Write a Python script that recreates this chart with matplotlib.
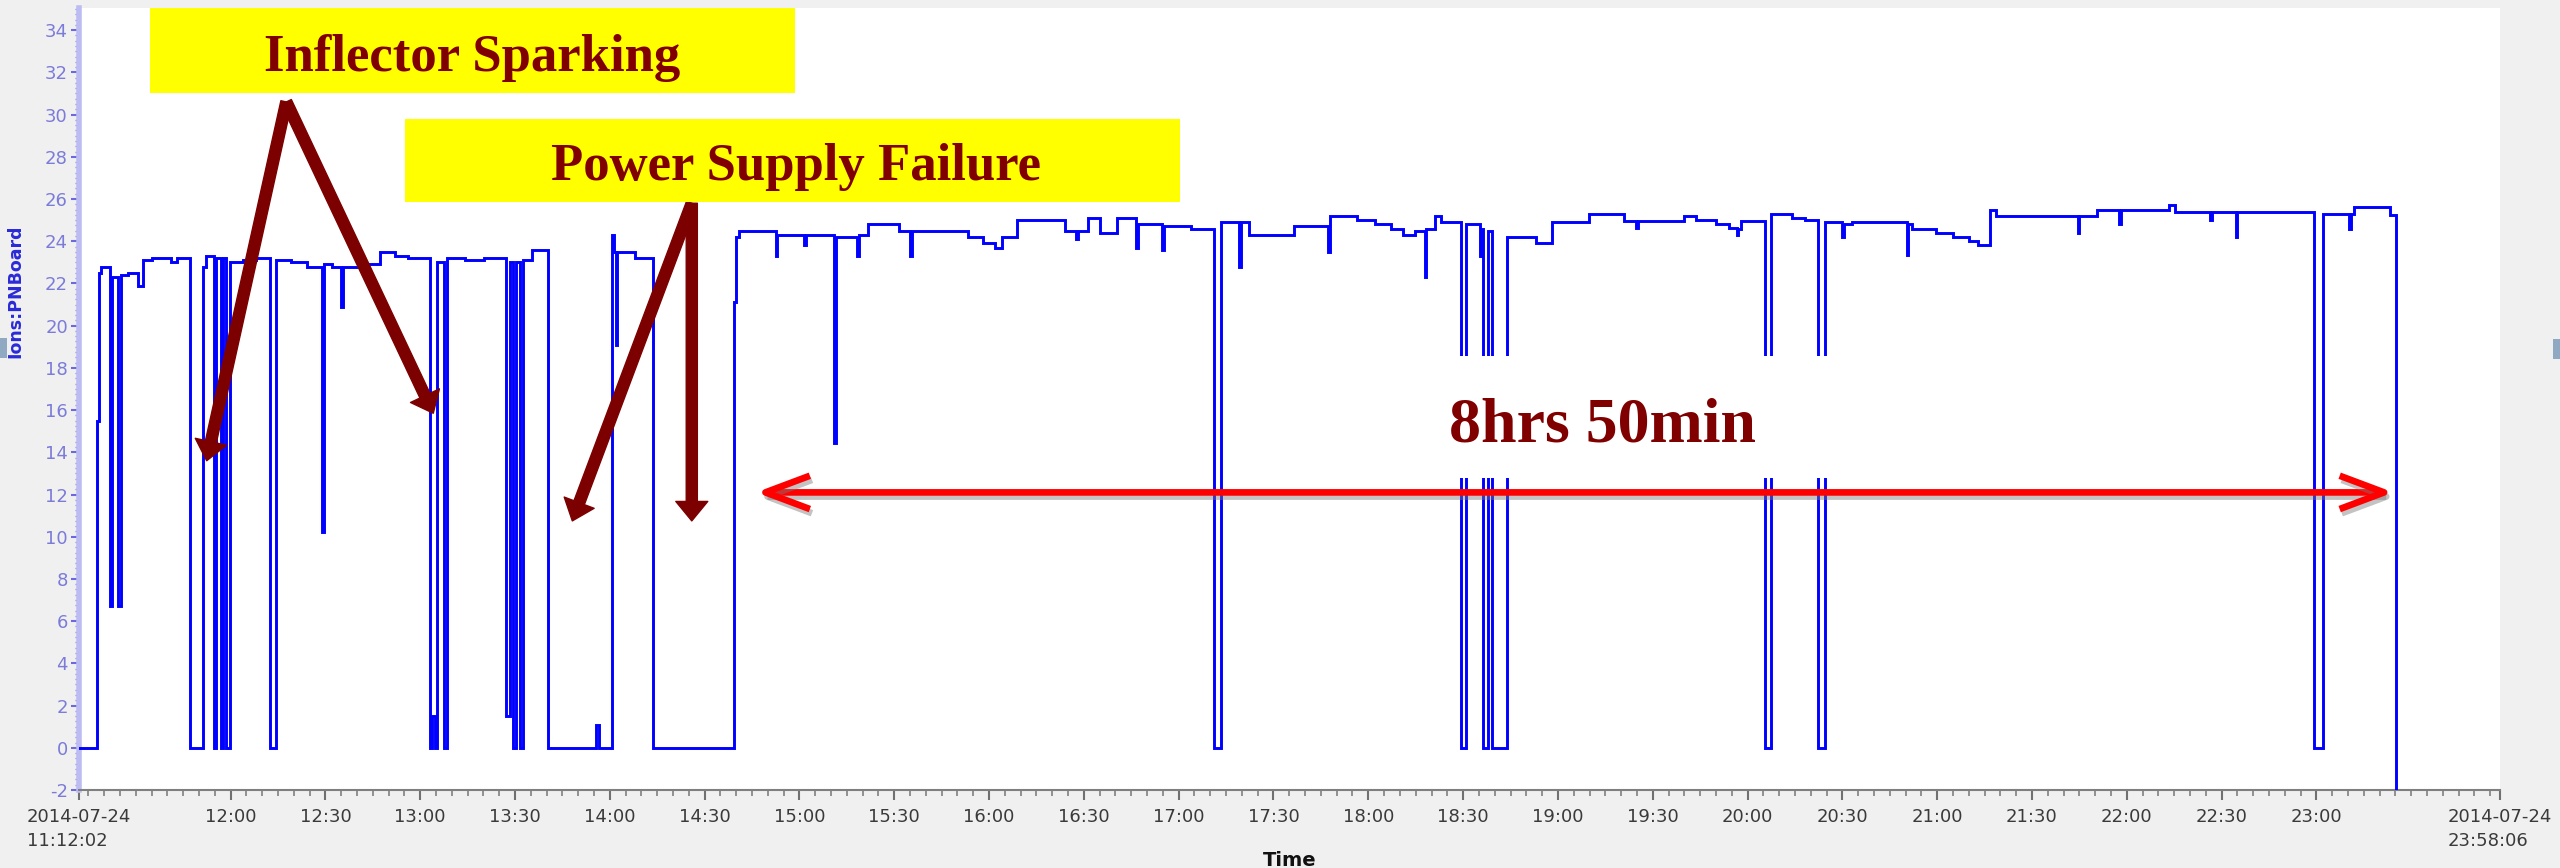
import matplotlib
matplotlib.use("Agg")
import matplotlib.pyplot as plt
from matplotlib.patches import Rectangle, FancyArrowPatch, ArrowStyle
from matplotlib.ticker import MultipleLocator
import matplotlib.patheffects as pe

plt.rcParams["axes.unicode_minus"] = False
plt.rcParams["font.family"] = ["DejaVu Sans"]

# ---------------- data ----------------
start_clock = "11:12:02"
end_clock = "23:58:06"
start_label = "2014-07-24\n11:12:02"
end_label = "2014-07-24\n23:58:06"

# minutes elapsed since 11:12:02
elapsed_min = [
    0.0, 5.7, 6.4, 7.0, 9.8, 10.6, 12.3, 13.3, 15.5, 18.6, 20.2, 23.0, 29.0, 31.0,
    35.0, 39.2, 40.2, 42.6, 43.4, 44.8, 45.6, 46.5, 47.7, 52.0, 56.0, 60.3, 62.3,
    67.0, 72.0, 77.0, 77.5, 80.0, 83.0, 83.5, 90.0, 95.4, 100.0, 104.0,
    111.0, 111.8, 112.6, 113.4, 115.6, 116.6, 122.0, 128.0,
    135.0, 136.3, 137.4, 138.2, 139.5, 140.6, 143.4, 148.3, 163.6, 164.6,
    168.8, 169.4, 170.0, 170.3, 176.0, 181.5, 207.2, 207.8,
    208.8, 220.4, 220.9, 229.4, 229.9, 239.0, 239.4, 246.3, 246.8, 249.6,
    259.5, 263.0, 263.5, 281.3, 286.0, 290.0, 292.2, 296.7, 312.1, 315.5, 316.0,
    319.4, 323.0, 328.4, 334.6, 335.1, 342.7, 343.2, 352.0, 359.2, 361.4,
    367.2, 367.7, 370.1, 384.6, 395.3, 396.0, 404.5, 410.0, 415.0, 419.0,
    422.7, 425.8, 426.3, 429.0, 431.0, 437.2, 439.0, 443.3, 443.7, 444.4,
    446.0, 447.0, 451.7, 461.0, 466.0, 477.7,
    489.0, 492.7, 493.2, 508.0, 511.8, 518.0, 522.0, 524.5, 525.0, 526.0,
    533.6, 535.5, 542.0, 546.0, 550.2, 552.5, 558.0, 558.5, 561.0, 578.4, 578.8,
    580.0, 587.5, 593.0, 598.0, 601.0, 604.6, 606.5, 632.4, 632.9, 638.6,
    645.6, 646.1, 661.4, 663.2, 674.4, 674.9, 682.5, 683.0, 707.2, 710.2,
    718.3, 718.8, 720.0, 731.4, 733.3,
]
ions_pnboard = [
    0.0, 15.5, 22.5, 22.8, 6.7, 22.3, 6.7, 22.4, 22.5, 21.9, 23.1, 23.2, 23.0, 23.2,
    0.0, 22.8, 23.3, 0.0, 23.2, 0.0, 23.2, 0.0, 23.0, 23.1, 23.2, 0.0, 23.1,
    23.0, 22.8, 10.2, 22.9, 22.8, 20.9, 22.8, 22.9, 23.5, 23.3, 23.2,
    0.0, 1.5, 0.0, 23.0, 0.0, 23.2, 23.1, 23.2,
    1.5, 23.0, 0.0, 23.0, 0.0, 23.1, 23.6, 0.0, 1.1, 0.0,
    24.3, 23.5, 19.1, 23.5, 23.2, 0.0, 21.1, 24.2,
    24.5, 23.3, 24.3, 23.8, 24.3, 14.45, 24.2, 23.3, 24.3, 24.8,
    24.5, 23.3, 24.5, 24.2, 23.9, 23.7, 24.2, 25.0, 24.5, 24.1, 24.5,
    25.1, 24.4, 25.1, 23.7, 24.8, 23.6, 24.7, 24.6, 0.0, 24.9,
    22.8, 24.9, 24.3, 24.7, 23.5, 25.2, 25.0, 24.8, 24.6, 24.3,
    24.5, 22.3, 24.6, 25.2, 24.9, 0.0, 24.8, 23.3, 24.6, 0.0,
    24.5, 0.0, 24.2, 23.9, 24.9, 25.3,
    24.95, 24.65, 24.95, 25.2, 25.0, 24.8, 24.65, 24.3, 24.6, 24.95,
    0.0, 25.3, 25.1, 25.0, 0.0, 24.9, 24.2, 24.8, 24.9, 23.35, 24.8,
    24.6, 24.4, 24.2, 24.0, 23.8, 25.5, 25.2, 24.4, 25.2, 25.5,
    24.8, 25.5, 25.7, 25.4, 25.0, 25.4, 24.2, 25.4, 0.0, 25.3,
    24.6, 25.3, 25.6, 25.25, -3.0,
]

clock_ticks = ["12:00", "12:30", "13:00", "13:30", "14:00", "14:30", "15:00",
               "15:30", "16:00", "16:30", "17:00", "17:30", "18:00", "18:30",
               "19:00", "19:30", "20:00", "20:30", "21:00", "21:30", "22:00",
               "22:30", "23:00"]
y_ticks = list(range(-2, 35, 2))

y_label = "Ions:PNBoard"
x_label = "Time"

# annotations (elapsed minutes, value)
inflector_text = "Inflector Sparking"
inflector_apex = (65.6, 30.6)
inflector_tips = [(40.4, 13.6), (112.1, 15.85)]
power_text = "Power Supply Failure"
power_apex = (193.9, 25.8)
power_tips = [(156.1, 10.75), (193.9, 10.75)]
span_text = "8hrs 50min"
span_start = (214.2, 12.1)
span_end = (732.4, 12.1)


def clock_to_min(s):
    parts = [float(p) for p in s.split(":")]
    while len(parts) < 3:
        parts.append(0.0)
    h, m, sec = parts
    sh, sm, ss = [float(p) for p in start_clock.split(":")]
    return (h * 60 + m + sec / 60) - (sh * 60 + sm + ss / 60)


# ---------------- figure ----------------
W, H = 2560, 868
fig = plt.figure(figsize=(W / 100, H / 100), dpi=100, facecolor="#f0f0f0")


def px_rect(x0, y0, x1, y1):
    return [x0 / W, 1 - y1 / H, (x1 - x0) / W, (y1 - y0) / H]


ax = fig.add_axes(px_rect(79, 8, 2500, 790))
ax.set_facecolor("white")

ax.plot(elapsed_min, ions_pnboard, drawstyle="steps-post", color="#0000ff",
        lw=2.1, zorder=3, solid_joinstyle="miter")

x_end = clock_to_min(end_clock)
ax.set_xlim(0, x_end)
ax.set_ylim(-2, 35.05)

for s in ("top", "right"):
    ax.spines[s].set_visible(False)
ax.spines["left"].set_color("#bcbcf2")
ax.spines["left"].set_linewidth(4.0)
ax.spines["bottom"].set_color("#7f7f7f")
ax.spines["bottom"].set_linewidth(1.5)

# y axis
ax.set_yticks(y_ticks)
ax.set_yticklabels([str(v) for v in y_ticks])
ax.yaxis.set_minor_locator(MultipleLocator(0.25))
ax.tick_params(axis="y", which="major", length=6, width=1.5, color="#6a6ae0",
               labelcolor="#7b7bd9", labelsize=13, pad=2)
ax.tick_params(axis="y", which="minor", length=3, width=1.0, color="#8c8ce8")

# x axis
xt = [0.0] + [clock_to_min(c) for c in clock_ticks] + [x_end]
xl = [start_label] + clock_ticks + [end_label]
ax.set_xticks(xt)
ax.set_xticklabels(xl)
first_minor = clock_to_min("11:15")
minor_x = []
m = first_minor
while m < x_end:
    minor_x.append(m)
    m += 5
ax.set_xticks(minor_x, minor=True)
ax.tick_params(axis="x", which="major", length=7, width=1.5, color="#707070",
               labelcolor="#3a3a3a", labelsize=13, pad=6)
ax.tick_params(axis="x", which="minor", length=4, width=1.2, color="#808080")
for lbl in ax.get_xticklabels():
    lbl.set_linespacing(1.45)
    lbl.set_multialignment("left")

# white box behind span text
ax.add_patch(Rectangle((429.7, 12.8), 129.5, 5.75, facecolor="white",
                       edgecolor="none", zorder=4))
ax.text(433.5, 14.5, span_text, ha="left", va="baseline", fontsize=46,
        fontweight="bold", family="Liberation Serif", color="#800000", zorder=6)

# red double arrow
ax.add_patch(FancyArrowPatch(
    posA=span_start, posB=span_end,
    arrowstyle=ArrowStyle("<->", head_length=1.6, head_width=0.6),
    mutation_scale=20, color="#ff0000", lw=4.8, shrinkA=0, shrinkB=0,
    zorder=5, capstyle="butt",
    path_effects=[pe.SimpleLineShadow(offset=(1.5, -3), shadow_color="#7a7a7a",
                                      alpha=0.45), pe.Normal()]))

# dark red arrows
dark_style = ArrowStyle("Simple", head_length=1.4, head_width=2.3, tail_width=0.8)
for tip in inflector_tips:
    ax.add_patch(FancyArrowPatch(posA=inflector_apex, posB=tip, arrowstyle=dark_style,
                                 mutation_scale=10, color="#7d0000", shrinkA=0,
                                 shrinkB=0, zorder=5, clip_on=False))
for tip in power_tips:
    ax.add_patch(FancyArrowPatch(posA=power_apex, posB=tip, arrowstyle=dark_style,
                                 mutation_scale=10, color="#7d0000", shrinkA=0,
                                 shrinkB=0, zorder=5, clip_on=False))

# yellow label boxes (figure level, on top of axes)
fig.add_artist(Rectangle(px_rect(150, 8, 795, 93)[:2], 645 / W, 85 / H,
                         transform=fig.transFigure, facecolor="#ffff00",
                         edgecolor="none", zorder=5))
fig.text(472.5 / W, 1 - 71 / H, inflector_text, ha="center", va="baseline",
         fontsize=38, fontweight="bold", family="Liberation Serif",
         color="#800000", zorder=6)
fig.add_artist(Rectangle(px_rect(405, 119, 1180, 202)[:2], 775 / W, 83 / H,
                         transform=fig.transFigure, facecolor="#ffff00",
                         edgecolor="none", zorder=5))
fig.text(796 / W, 1 - 180 / H, power_text, ha="center", va="baseline",
         fontsize=38, fontweight="bold", family="Liberation Serif",
         color="#800000", zorder=6)

# axis labels
fig.text(15 / W, 1 - 291 / H, y_label, rotation=90, ha="center", va="center",
         fontsize=12.5, color="#2a2ad8", fontweight="bold")
fig.text(1289.5 / W, 1 - 851 / H, x_label, ha="center", va="top", fontsize=14,
         fontweight="bold", color="#111111")

# small widget squares at the edges
fig.add_artist(Rectangle((0, 1 - 358 / H), 7 / W, 20 / H, transform=fig.transFigure,
                         facecolor="#8fa9c2", edgecolor="none"))
fig.add_artist(Rectangle((2553 / W, 1 - 359 / H), 7 / W, 20 / H,
                         transform=fig.transFigure, facecolor="#8fa9c2",
                         edgecolor="none"))

fig.savefig("out.png", dpi=100, facecolor=fig.get_facecolor())
